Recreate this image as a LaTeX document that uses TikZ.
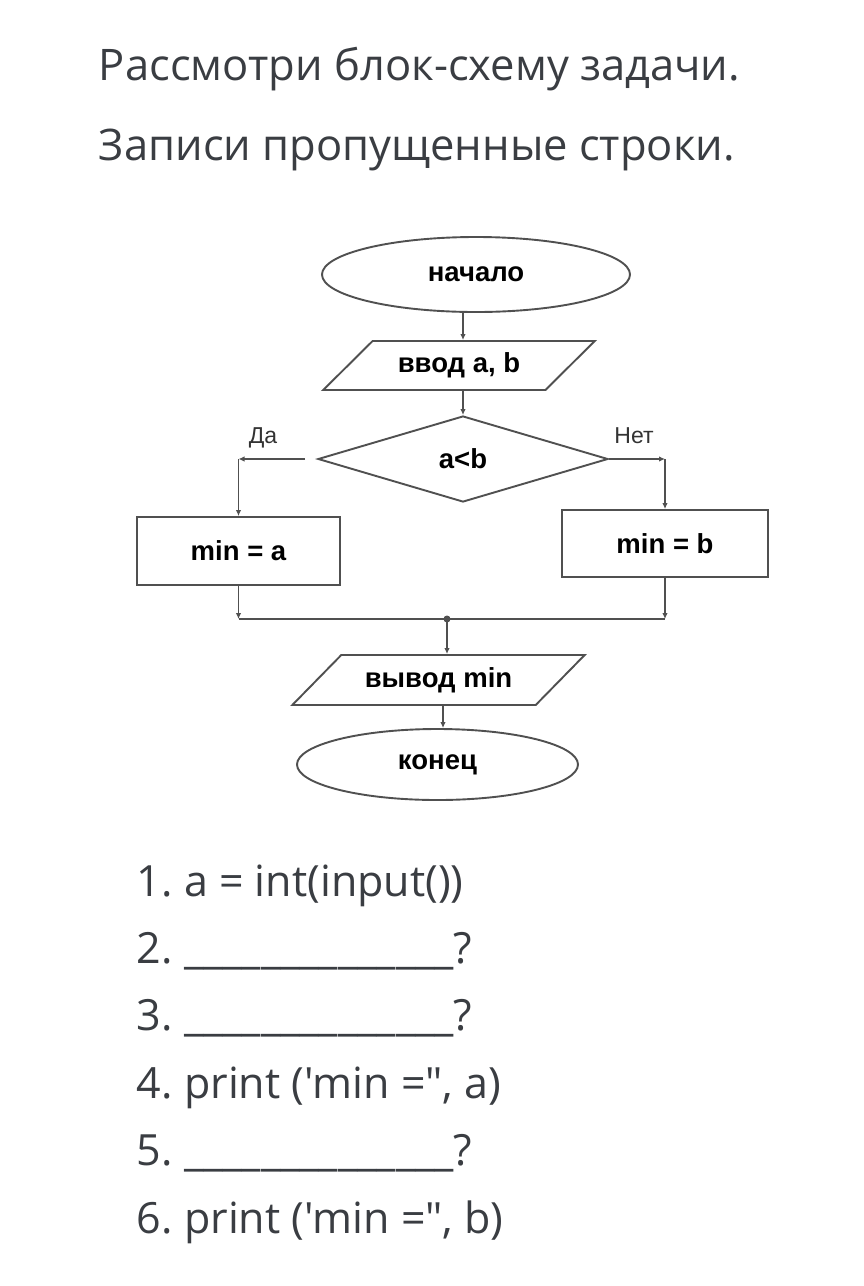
\documentclass[tikz,border=0pt]{standalone}
\usepackage{fontspec}
\setmainfont{Open Sans}[Ligatures=TeXOff]
\newfontfamily\chartfont{Liberation Sans}
\usetikzlibrary{shapes.geometric,arrows.meta}
\definecolor{headgray}{RGB}{58,61,66}
\definecolor{linegray}{RGB}{80,80,80}
\frenchspacing

\begin{document}
\begin{tikzpicture}[x=1bp, y=-1bp,
    line width=1.9bp, draw=linegray,
    blk/.style={draw=linegray, line width=1.9bp, inner sep=0pt,
      font=\chartfont\bfseries\fontsize{27.5bp}{31bp}\selectfont},
    term/.style={blk, ellipse},
    io/.style={blk, trapezium, trapezium stretches=true},
    act/.style={blk, rectangle},
    cond/.style={blk, diamond},
    lbl/.style={font=\chartfont\fontsize{23bp}{26bp}\selectfont, text=black!80},
    hd/.style={anchor=base west, text=headgray, inner sep=0pt,
      font=\fontsize{43.5bp}{50bp}\selectfont},
    ln/.style={anchor=base west, text=headgray, inner sep=0pt,
      font=\fontsize{43bp}{50bp}\selectfont},
    arr/.style={-{Latex[length=6bp,width=5.5bp]}}
  ]
    \fill[white] (0,0) rectangle (864,1286);

    % task text
    \node[hd] (h1) at (98,80) {Рассмотри блок-схему задачи.};
    \node[hd] (h2) at (98,160) {Записи пропущенные строки.};

    % flowchart
    \node[term, minimum width=308bp, minimum height=75bp] (start) at (476,274.5) {начало};
    \node[io, trapezium left angle=36, trapezium right angle=144,
      minimum width=272bp, minimum height=49bp] (in) at (459,365.5) {ввод a, b};
    \node[cond, minimum width=290bp, minimum height=86bp] (test) at (463,459) {a<b};
    \node[act, minimum width=203bp, minimum height=68bp] (mina) at (238.5,551) {min = a};
    \node[act, minimum width=206bp, minimum height=67bp] (minb) at (665,543.5) {min = b};
    \node[io, trapezium left angle=34.4, trapezium right angle=145.6,
      minimum width=293bp, minimum height=50bp] (out) at (438.5,680) {вывод min};
    \node[term, minimum width=281bp, minimum height=71bp] (stop) at (437.5,764.5) {конец};

    \node[lbl] (yes) at (263,438) {Да};
    \node[lbl] (no) at (634,436) {Нет};

    \coordinate (ycorner) at (mina.north |- test.west);
    \coordinate (ncorner) at (minb.north |- test.east);
    \coordinate (jl) at (mina.south |- 0,619);
    \coordinate (jr) at (minb.south |- 0,619);
    \coordinate (join) at (447,619);

    \draw[arr] (start.south -| test.north) -- (in.north -| test.north);
    \draw[arr] (in.south -| test.north) -- (test.north);
    \draw[arr, shorten <=12bp] (test.west) -- (ycorner);
    \draw[arr] (ycorner) -- (mina.north);
    \draw[arr] (test.east) -- (ncorner);
    \draw[arr] (ncorner) -- (minb.north);
    \draw[arr] (mina.south) -- (jl);
    \draw[arr] (minb.south) -- (jr);
    \draw (jl) -- (jr);
    \fill[linegray] (join) circle (3.5bp);
    \draw[arr] (join) -- (join |- out.north);
    \draw[arr] (out.south -| 443,0) -- (stop.north -| 443,0);

    % lines to fill in
    \node[ln] (l1) at (136,896) {1. a = int(input())};
    \node[ln] (l2) at (136,963.5) {2. \_\_\_\_\_\_\_\_\_\_\_\_\_\_?};
    \node[ln] (l3) at (136,1030.5) {3. \_\_\_\_\_\_\_\_\_\_\_\_\_\_?};
    \node[ln] (l4) at (136,1098) {4. print ('min =", a)};
    \node[ln] (l5) at (136,1165) {5. \_\_\_\_\_\_\_\_\_\_\_\_\_\_?};
    \node[ln] (l6) at (136,1233) {6. print ('min =", b)};
\end{tikzpicture}
\end{document}
